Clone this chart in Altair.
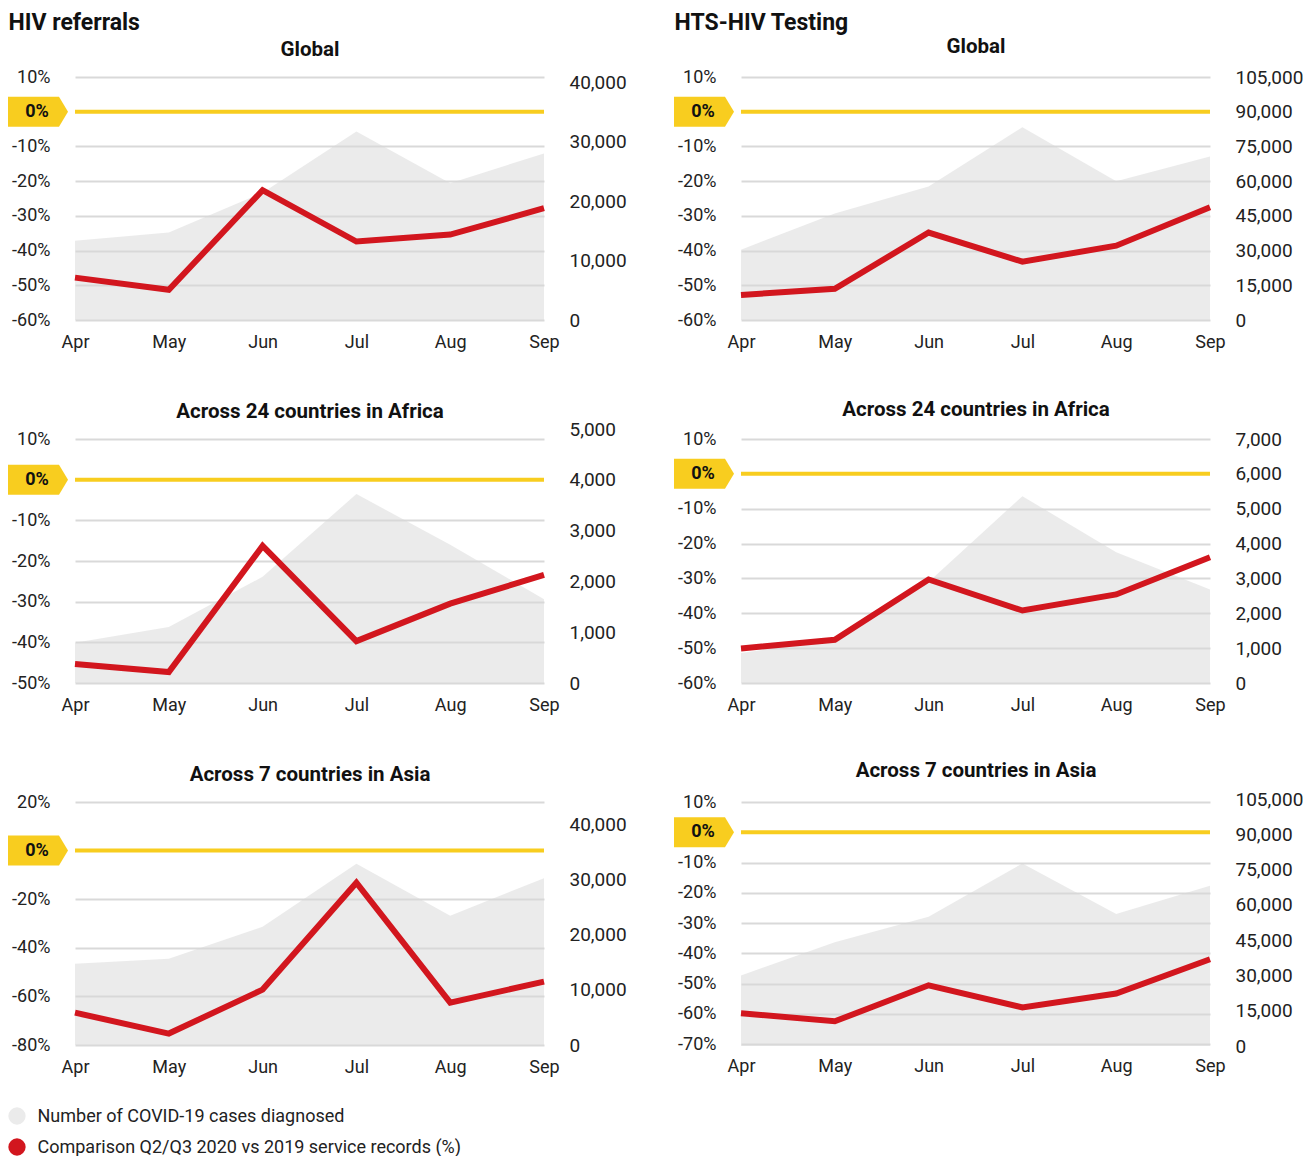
import altair as alt
import pandas as pd

months = ["Apr", "May", "Jun", "Jul", "Aug", "Sep"]

# HIV referrals (% change vs 2019) and COVID-19 cases
ref_global_pct = [-47.8, -51.3, -22.6, -37.4, -35.4, -27.8]
ref_global_cases = [13300, 14700, 21400, 31700, 23000, 28000]
ref_africa_pct = [-45.3, -47.3, -16.3, -39.7, -30.5, -23.4]
ref_africa_cases = [790, 1100, 2090, 3720, 2720, 1650]
ref_asia_pct = [-66.7, -75.3, -57.2, -13.2, -62.6, -53.9]
ref_asia_cases = [14700, 15600, 21400, 32800, 23400, 30200]

# HTS-HIV testing
hts_global_pct = [-52.8, -51.0, -34.8, -43.2, -38.6, -27.5]
hts_global_cases = [30400, 46000, 57700, 83300, 59900, 70700]
hts_africa_pct = [-50.1, -47.6, -30.3, -39.2, -34.6, -23.9]
hts_africa_cases = [860, 1250, 2900, 5360, 3750, 2680]
hts_asia_pct = [-59.8, -62.5, -50.6, -57.9, -53.3, -42.0]
hts_asia_cases = [30000, 44100, 54900, 77600, 56100, 68100]

# axis tick labels
pct_ticks_60 = [10, -10, -20, -30, -40, -50, -60]
pct_ticks_50 = [10, -10, -20, -30, -40, -50]
pct_ticks_80 = [20, -20, -40, -60, -80]
pct_ticks_70 = [10, -10, -20, -30, -40, -50, -60, -70]
cases_ticks_40k = [0, 10000, 20000, 30000, 40000]
cases_ticks_105k = [0, 15000, 30000, 45000, 60000, 75000, 90000, 105000]
cases_ticks_5k = [0, 1000, 2000, 3000, 4000, 5000]
cases_ticks_7k = [0, 1000, 2000, 3000, 4000, 5000, 6000, 7000]

legend_labels = ["Number of COVID-19 cases diagnosed",
                 "Comparison Q2/Q3 2020 vs 2019 service records (%)"]

RED = "#d2161e"
YELLOW = "#f8cd1f"
AREA = "#d8d8d8"
AREA_LEGEND = "#ebebeb"
GRID = "#d9d9d9"
TXT = "#222222"
BADGE_PATH = "M-1,-0.5L0.7,-0.5L1,0L0.7,0.5L-1,0.5Z"
W = 469


def panel(pct, cases, pdomain, pticks, cticks, crange, H, subtitle, sub_y, heading=None):
    df = pd.DataFrame({"month": months, "pct": pct, "cases": cases})
    zero_df = pd.DataFrame({"baseline": [0]})
    xsc = alt.Scale(domain=months, padding=0)

    right_axis = dict(orient="right", values=cticks, tickCount=len(cticks), format=",d",
                      labelPadding=25, labelFontSize=19, labelColor=TXT, ticks=False,
                      domain=False, grid=False, labelOverlap=False)
    if heading:
        right_axis.update(titleAngle=0, titleX=-67 - W, titleY=-55, titleAlign="left",
                          titleBaseline="middle", titleFontSize=23, titleFontWeight="bold",
                          titleColor="#111111")
        ytitle = heading
    else:
        ytitle = None

    area = alt.Chart(df).mark_area(color=AREA, opacity=0.5).encode(
        x=alt.X("month:O", scale=xsc, title=None,
                axis=alt.Axis(orient="bottom", labelAngle=0, labelPadding=13, labelFontSize=18,
                              labelColor=TXT, ticks=False, domain=False, grid=False)),
        y=alt.Y("cases:Q", title=ytitle,
                scale=alt.Scale(domain=[0, cticks[-1]], range=crange, nice=False),
                axis=alt.Axis(**right_axis)),
    )

    line = alt.Chart(df).mark_line(color=RED, strokeWidth=6).encode(
        x=alt.X("month:O", scale=xsc, title=subtitle,
                axis=alt.Axis(orient="top", labels=False, ticks=False, domain=False, grid=False,
                              titleY=sub_y, titleBaseline="middle", titleFontSize=20.5,
                              titleFontWeight="bold", titleColor="#111111")),
        y=alt.Y("pct:Q", title=None,
                scale=alt.Scale(domain=pdomain, nice=False, zero=False),
                axis=alt.Axis(orient="left", values=pticks, tickCount=len(pticks),
                              labelExpr="datum.value + '%'",
                              labelPadding=25, labelFontSize=18, labelColor=TXT,
                              labelOverlap=False, ticks=False, domain=False, grid=True,
                              gridColor=GRID, gridWidth=2)),
    )

    zero_rule = alt.Chart(zero_df).mark_rule(color=YELLOW, strokeWidth=4).encode(
        y=alt.Y("baseline:Q", title=None))
    badge = alt.Chart(zero_df).mark_point(shape=BADGE_PATH, filled=True, size=3600,
                                           color=YELLOW, opacity=1, strokeWidth=0).encode(
        x=alt.value(-37), y=alt.Y("baseline:Q", title=None))
    badge_text = alt.Chart(zero_df).mark_text(text="0%", fontSize=18, fontWeight="bold",
                                               color="#111111").encode(
        x=alt.value(-38), y=alt.Y("baseline:Q", title=None))

    inner = alt.layer(zero_rule, line, badge, badge_text)
    return (alt.layer(area, inner)
            .resolve_scale(y="independent")
            .resolve_axis(x="independent")
            .properties(width=W, height=H))


p1 = panel(ref_global_pct, ref_global_cases, [-60, 10], pct_ticks_60, cases_ticks_40k,
           [243, 5], 243, "Global", -28, heading="HIV referrals")
p2 = panel(hts_global_pct, hts_global_cases, [-60, 10], pct_ticks_60, cases_ticks_105k,
           [243, 0], 243, "Global", -31, heading="HTS-HIV Testing")
p3 = panel(ref_africa_pct, ref_africa_cases, [-50, 10], pct_ticks_50, cases_ticks_5k,
           [244, -10], 244, "Across 24 countries in Africa", -28)
p4 = panel(hts_africa_pct, hts_africa_cases, [-60, 10], pct_ticks_60, cases_ticks_7k,
           [244, 0], 244, "Across 24 countries in Africa", -30)
p5 = panel(ref_asia_pct, ref_asia_cases, [-80, 20], pct_ticks_80, cases_ticks_40k,
           [243, 22], 243, "Across 7 countries in Asia", -28)
p6 = panel(hts_asia_pct, hts_asia_cases, [-70, 10], pct_ticks_70, cases_ticks_105k,
           [244, -3], 242, "Across 7 countries in Asia", -32)

grid = alt.concat(p1, p2, p3, p4, p5, p6, columns=2,
                  spacing={"row": 119, "column": 197}, bounds="flush")

legend_df = pd.DataFrame({"label": legend_labels})
legend = alt.Chart(legend_df).mark_point(filled=True, size=300, opacity=1, strokeWidth=0).encode(
    x=alt.value(-58),
    y=alt.Y("label:N", title=None,
            scale=alt.Scale(domain=legend_labels, padding=0),
            axis=alt.Axis(orient="right", offset=-59, labelPadding=20, labelFontSize=18,
                          labelColor=TXT, labelAlign="left", ticks=False, domain=False,
                          grid=False, labelLimit=0)),
    color=alt.Color("label:N", scale=alt.Scale(domain=legend_labels, range=[AREA_LEGEND, RED]),
                    legend=None),
).properties(width=1, height=31)

chart = (alt.vconcat(grid, legend, spacing=31, bounds="full")
         .configure(font="Roboto", padding={"left": 0, "top": 3, "right": 0, "bottom": 0})
         .configure_view(strokeWidth=0))

chart.save("out.html", embed_options={"renderer": "svg", "actions": False})
